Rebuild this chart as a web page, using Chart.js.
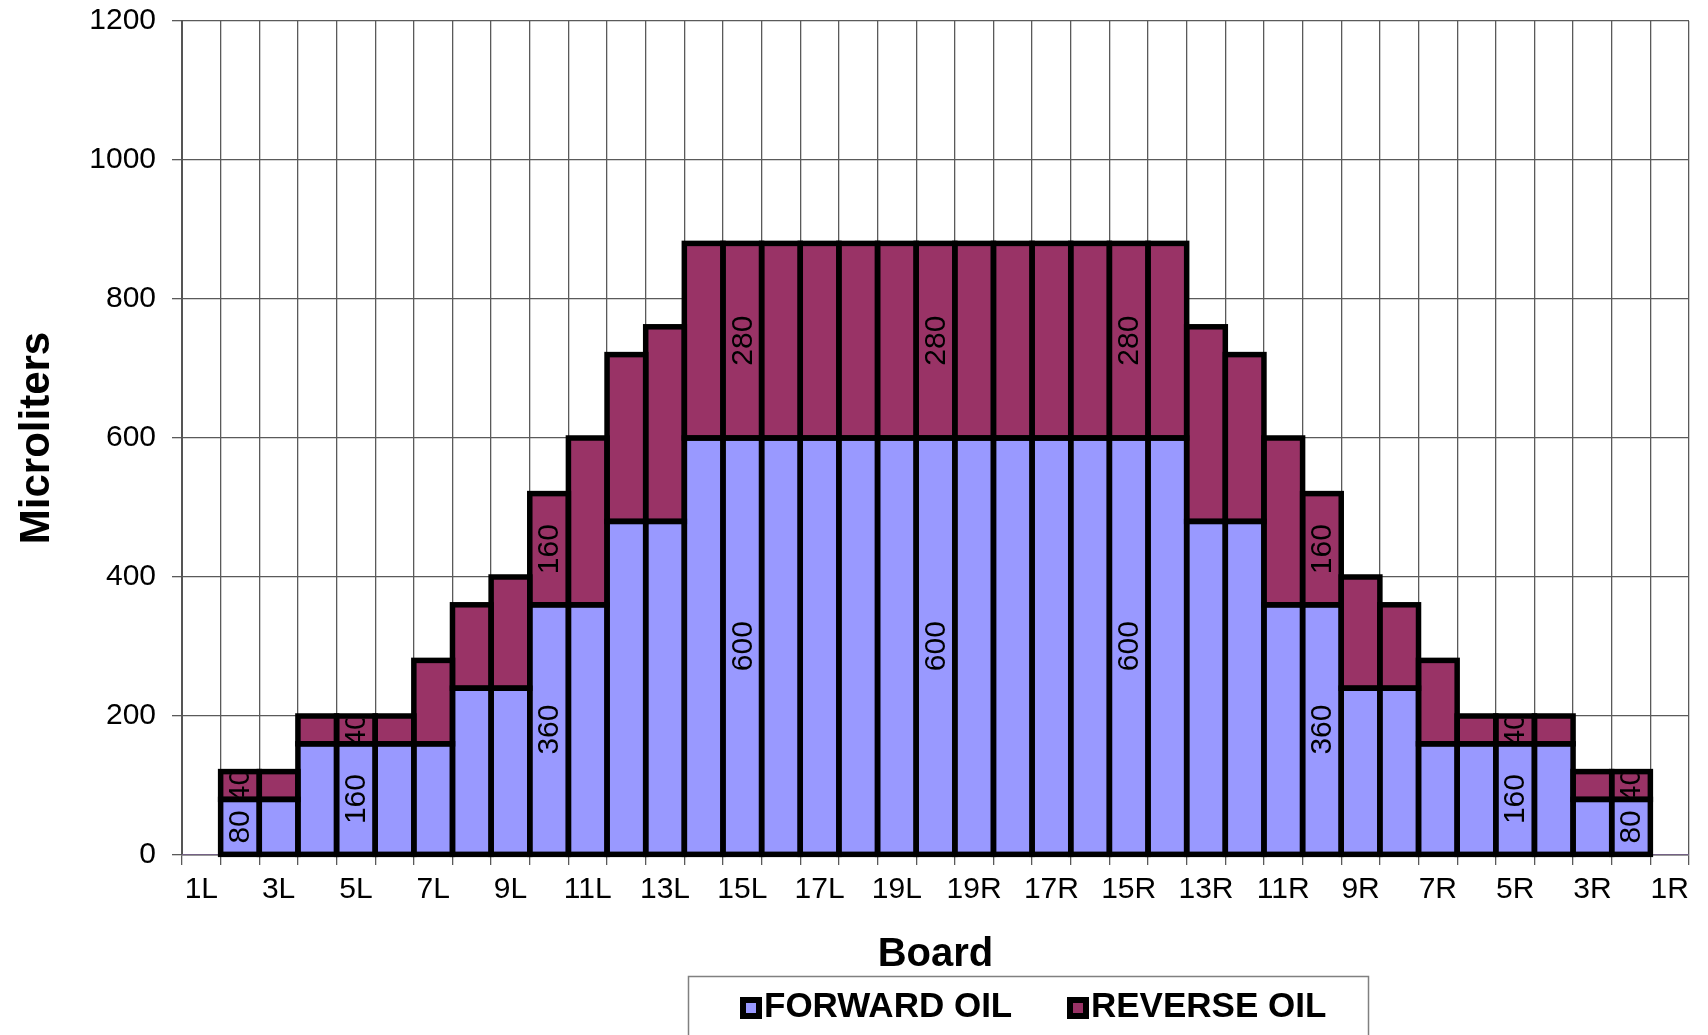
<!DOCTYPE html>
<html><head><meta charset="utf-8">
<script src="https://cdn.jsdelivr.net/npm/chart.js@4.4.0/dist/chart.umd.min.js"></script>
<style>html,body{margin:0;padding:0;background:#fff;}canvas{display:block;}</style>
</head><body>
<canvas id="c" width="1708" height="1035"></canvas>
<script>
// ---- data ----
const boards = ['1L','2L','3L','4L','5L','6L','7L','8L','9L','10L','11L','12L','13L','14L','15L','16L','17L','18L','19L','20',
                '19R','18R','17R','16R','15R','14R','13R','12R','11R','10R','9R','8R','7R','6R','5R','4R','3R','2R','1R'];
const forwardOil = [0,80,80,160,160,160,160,240,240,360,360,480,480,
                    600,600,600,600,600,600,600,600,600,600,600,600,600,
                    480,480,360,360,240,240,160,160,160,160,80,80,0];
const reverseOil = [0,40,40,40,40,40,120,120,160,160,240,240,280,
                    280,280,280,280,280,280,280,280,280,280,280,280,280,
                    280,240,240,160,160,120,120,40,40,40,40,40,0];
const labeledBoards = [1,4,9,14,19,24,29,34,37];
const seriesNames = ['FORWARD OIL','REVERSE OIL'];
const seriesColors = ['#9999FF','#993366'];
const yMin = 0, yMax = 1200, yStep = 200;
const xTitle = 'Board', yTitle = 'Microliters';

const FONT = "'Liberation Sans', Arial, Helvetica, sans-serif";
Chart.defaults.font.family = FONT;
Chart.defaults.color = '#000';

const barDecor = {
  id: 'barDecor',
  afterDatasetsDraw(chart) {
    const ctx = chart.ctx;
    const lw = 5.5;
    ctx.save();
    ctx.strokeStyle = '#000';
    ctx.lineWidth = lw;
    ctx.lineJoin = 'miter';
    chart.data.datasets.forEach((ds, di) => {
      const meta = chart.getDatasetMeta(di);
      meta.data.forEach((bar, i) => {
        if (!ds.data[i]) return;
        const p = bar.getProps(['x','y','base','width'], true);
        const l = p.x - p.width / 2, t = Math.min(p.y, p.base), h = Math.abs(p.base - p.y);
        ctx.strokeRect(l, t, p.width, h);
      });
    });
    // data labels (rotated, clipped to segment)
    ctx.font = "30px " + FONT;
    ctx.fillStyle = '#000';
    ctx.textAlign = 'center';
    ctx.textBaseline = 'middle';
    chart.data.datasets.forEach((ds, di) => {
      const meta = chart.getDatasetMeta(di);
      labeledBoards.forEach(i => {
        const v = ds.data[i];
        if (!v) return;
        const p = meta.data[i].getProps(['x','y','base','width'], true);
        const l = p.x - p.width / 2, t = Math.min(p.y, p.base), h = Math.abs(p.base - p.y);
        ctx.save();
        ctx.beginPath();
        ctx.rect(l + lw / 2, t + lw / 2, p.width - lw, h - lw);
        ctx.clip();
        ctx.translate(p.x, t + h / 2);
        ctx.rotate(-Math.PI / 2);
        ctx.fillText(String(v), 0, 1);
        ctx.restore();
      });
    });
    ctx.restore();
  }
};

const legendBox = {
  id: 'legendBox',
  afterDraw(chart) {
    const ctx = chart.ctx;
    ctx.save();
    ctx.strokeStyle = '#808080';
    ctx.lineWidth = 1.5;
    ctx.strokeRect(688.5, 976.5, 680, 90);
    ctx.font = "bold 35px " + FONT;
    ctx.textBaseline = 'middle';
    ctx.textAlign = 'left';
    const itemX = [740, 1067];
    chart.data.datasets.forEach((ds, i) => {
      const x = itemX[i], y = 1008;
      ctx.fillStyle = '#000';
      ctx.fillRect(x, y - 11, 22, 22);
      ctx.fillStyle = ds.backgroundColor;
      ctx.fillRect(x + 6, y - 5, 10, 10);
      ctx.fillStyle = '#000';
      ctx.fillText(ds.label, x + 24, y - 1);
    });
    ctx.restore();
  }
};

new Chart(document.getElementById('c'), {
  type: 'bar',
  data: {
    labels: boards,
    datasets: [
      { label: seriesNames[0], data: forwardOil, backgroundColor: seriesColors[0], borderWidth: 0 },
      { label: seriesNames[1], data: reverseOil, backgroundColor: seriesColors[1], borderWidth: 0 }
    ]
  },
  options: {
    responsive: false,
    animation: false,
    events: [],
    layout: { padding: { left: 0, right: 19, top: 21, bottom: 56 } },
    datasets: { bar: { categoryPercentage: 1, barPercentage: 1 } },
    plugins: { legend: { display: false }, tooltip: { enabled: false } },
    scales: {
      x: {
        stacked: true,
        grid: { color: '#5a5a5a', lineWidth: 1.3, tickLength: 10, offset: true },
        border: { color: '#5a5a5a', width: 1.5 },
        ticks: {
          autoSkip: false, maxRotation: 0, minRotation: 0, padding: 7,
          font: { size: 30 }, color: '#000',
          callback: function(val, idx) { return idx % 2 === 0 ? this.getLabelForValue(val) : ''; }
        },
        title: { display: true, text: xTitle, font: { size: 40, weight: 'bold' }, color: '#000', padding: { top: 0, bottom: 0 } },
        afterFit(scale) { scale.height = 124; scale.paddingLeft = 0; scale.paddingRight = 0; }
      },
      y: {
        stacked: true,
        min: yMin, max: yMax,
        grid: { color: '#5a5a5a', lineWidth: 1.3, tickLength: 10 },
        border: { color: '#555', width: 2 },
        ticks: { stepSize: yStep, padding: 16, font: { size: 30 }, color: '#000',
                 callback: (v) => String(v) },
        title: { display: true, text: yTitle, font: { size: 42, weight: 'bold' }, color: '#000', padding: { top: 12, bottom: 0 } },
        afterFit(scale) { scale.width = 182; scale.paddingTop = 0; scale.paddingBottom = 0; }
      }
    }
  },
  plugins: [barDecor, legendBox]
});
</script>
</body></html>
